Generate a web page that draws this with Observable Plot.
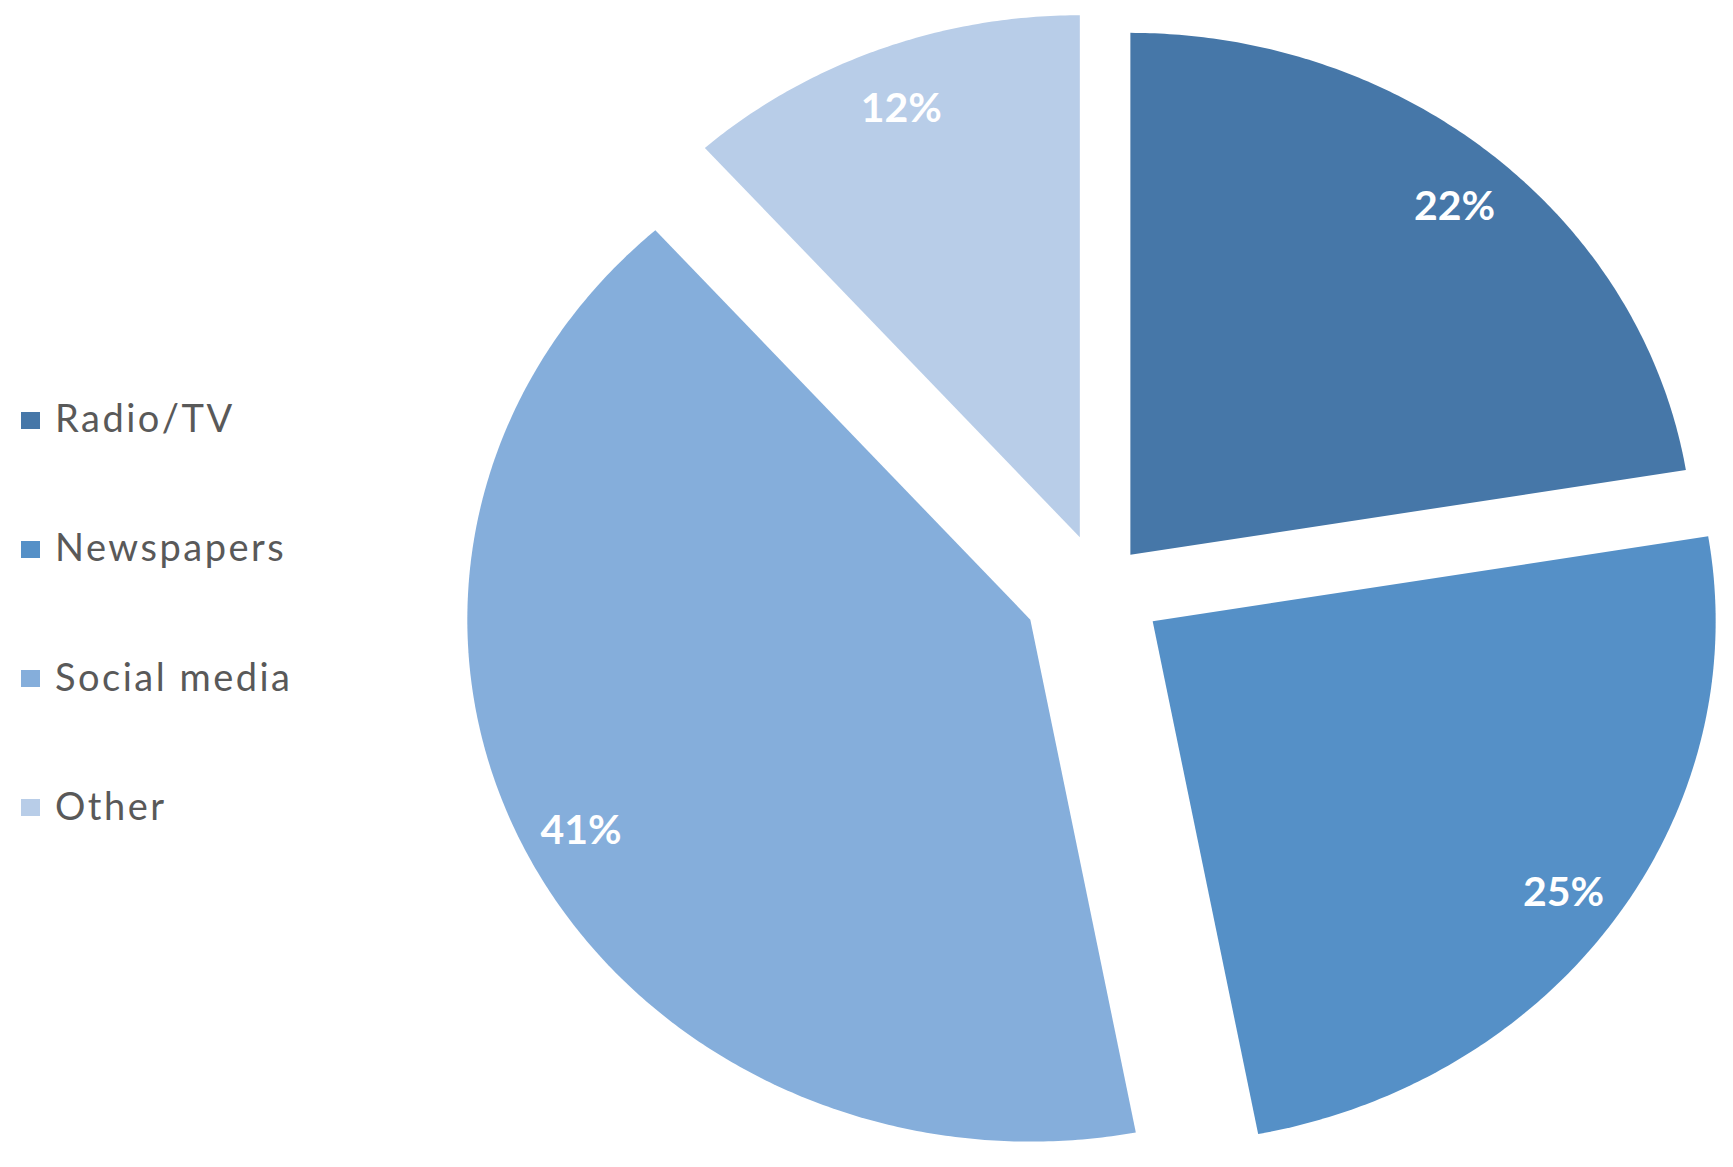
<!DOCTYPE html>
<html>
<head>
<meta charset="utf-8">
<script src="https://cdn.jsdelivr.net/npm/d3@7"></script>
<script src="https://cdn.jsdelivr.net/npm/@observablehq/plot@0.6"></script>
<style>
  body { margin: 0; background: #ffffff; }
  #wrap { position: relative; width: 1733px; height: 1167px; overflow: hidden; }
  #chart { position: absolute; left: 0; top: 0; }
  #legend { position: absolute; left: 0; top: 0; font-family: Lato, "Open Sans", sans-serif; color: #595959; }
  .item { position: absolute; left: 21px; height: 0; display: flex; align-items: center; white-space: nowrap; }
  .sw { width: 19px; height: 17px; margin-right: 15px; flex: none; }
  .lab { font-size: 38px; line-height: 1; letter-spacing: 2.5px; position: relative; top: -3px; }
</style>
</head>
<body>
<div id="wrap"><div id="chart"></div><div id="legend"></div></div>
<script>
// ---- data ----
const categories = ["Radio/TV", "Newspapers", "Social media", "Other"];
const shares = [22.4, 24.6, 41.4, 11.6];
const valueLabels = ["22%", "25%", "41%", "12%"];
const colors = ["#4677a8", "#5590c7", "#85aedb", "#b8cde8"];

// ---- layout ----
const W = 1733, H = 1167;
const CX = 1100, CY = 587;      // pie centre (px)
const RX = 563, RY = 522;       // pie radii (px) - picture is slightly stretched
const explode = [0.082, 0.113, 0.139, 0.103]; // per-slice explosion (in radius units)
const labelR = 0.89;

const arcs = d3.pie().sort(null).value(d => d.share)(
  categories.map((name, i) => ({name, share: shares[i], label: valueLabels[i], i}))
);

const slicePts = [];
const labelPts = [];
arcs.forEach(a => {
  const d = a.data;
  const mid = (a.startAngle + a.endAngle) / 2;
  const ox = explode[d.i] * Math.sin(mid), oy = -explode[d.i] * Math.cos(mid);
  slicePts.push({name: d.name, x: ox, y: oy});
  const n = Math.max(2, Math.ceil((a.endAngle - a.startAngle) / (Math.PI / 360)));
  for (let k = 0; k <= n; k++) {
    const t = a.startAngle + (a.endAngle - a.startAngle) * k / n;
    slicePts.push({name: d.name, x: ox + Math.sin(t), y: oy - Math.cos(t)});
  }
  slicePts.push({name: d.name, x: ox, y: oy});
  labelPts.push({name: d.name, label: d.label, x: ox + labelR * Math.sin(mid), y: oy - labelR * Math.cos(mid)});
});

const chart = Plot.plot({
  width: W,
  height: H,
  margin: 0,
  x: {domain: [-CX / RX, (W - CX) / RX], range: [0, W], axis: null},
  y: {domain: [-CY / RY, (H - CY) / RY], range: [0, H], axis: null},
  color: {domain: categories, range: colors},
  style: {background: "transparent"},
  marks: [
    Plot.line(slicePts, {x: "x", y: "y", z: "name", fill: "name", stroke: "none", curve: "linear"}),
    Plot.text(labelPts, {x: "x", y: "y", text: "label", fill: "white", fontSize: 41, fontWeight: "bold",
      dy: 6, fontFamily: "Lato, 'Open Sans', sans-serif"})
  ]
});
document.getElementById("chart").appendChild(chart);

// ---- legend ----
const legend = document.getElementById("legend");
categories.forEach((name, i) => {
  const row = document.createElement("div");
  row.className = "item";
  row.style.top = (420 + i * 129.3) + "px";
  const sw = document.createElement("div");
  sw.className = "sw";
  sw.style.background = colors[i];
  const lab = document.createElement("span");
  lab.className = "lab";
  lab.textContent = name;
  row.appendChild(sw);
  row.appendChild(lab);
  legend.appendChild(row);
});
</script>
</body>
</html>
